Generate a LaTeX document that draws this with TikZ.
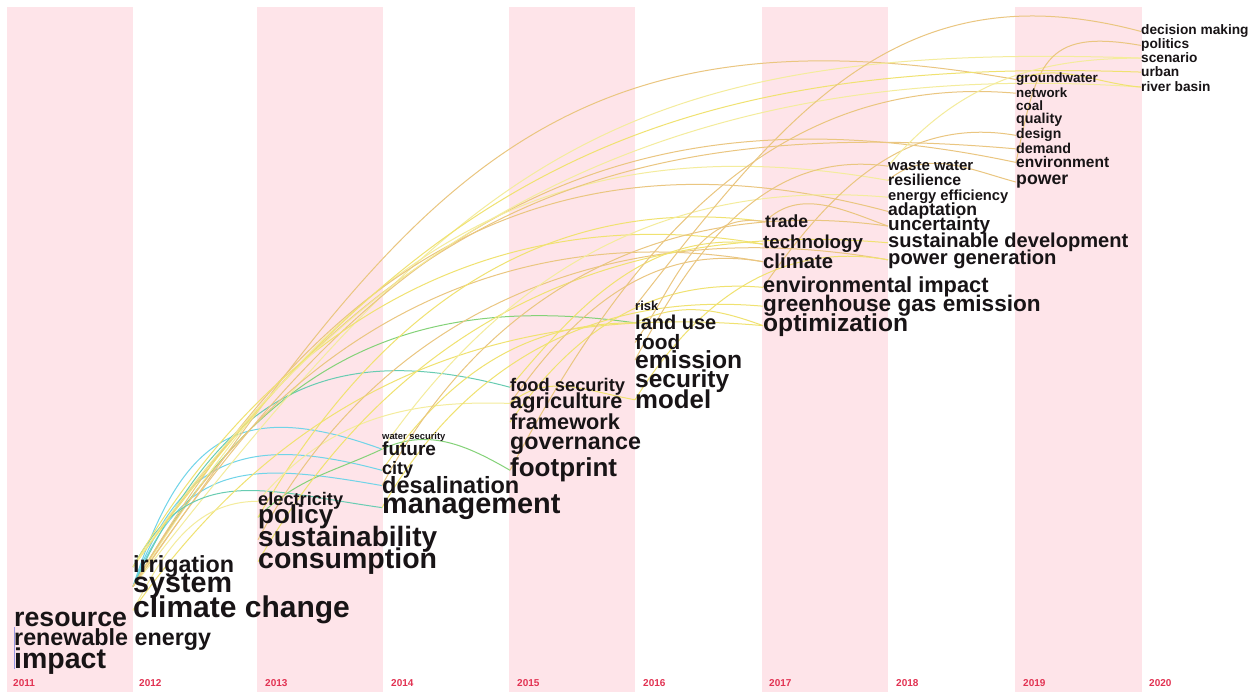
\documentclass[tikz,border=0pt]{standalone}
\usepackage{fontspec}
\setmainfont{Liberation Sans}
\definecolor{slice}{RGB}{254,228,233}
\definecolor{yearred}{RGB}{226,50,82}
\definecolor{ink}{RGB}{24,20,22}
\definecolor{linkcyan}{RGB}{112,212,232}
\definecolor{linkteal}{RGB}{104,204,178}
\definecolor{linkgreen}{RGB}{132,210,120}
\definecolor{linkyellow}{RGB}{240,226,112}
\definecolor{linkpale}{RGB}{244,236,156}
\definecolor{linkorange}{RGB}{234,198,128}
\definecolor{linkblue}{RGB}{150,150,228}
\pgfdeclarelayer{back}
\pgfdeclarelayer{links}
\pgfsetlayers{back,links,main}
\begin{document}
\begin{tikzpicture}[x=1pt, y=1pt,
  kw/.style={anchor=base west, inner sep=0pt, text=ink, font=\bfseries\fontsize{#1}{#1}\selectfont},
  yr/.style={anchor=base west, inner sep=0pt, text=yearred, font=\bfseries\fontsize{10}{10}\selectfont},
  lnk/.style={draw=#1, line width=1pt}]
\useasboundingbox (0,0) rectangle (1253,692);
\begin{pgfonlayer}{back}
\fill[white] (0,0) rectangle (1253,692);
\fill[slice] (7,0) rectangle (133,685);
\fill[slice] (257,0) rectangle (383,685);
\fill[slice] (509,0) rectangle (635,685);
\fill[slice] (762,0) rectangle (888,685);
\fill[slice] (1015,0) rectangle (1142,685);
\end{pgfonlayer}
% time slices
\node[yr] (y2011) at (13,5) {2011};
\node[yr] (y2012) at (139,5) {2012};
\node[yr] (y2013) at (265,5) {2013};
\node[yr] (y2014) at (391,5) {2014};
\node[yr] (y2015) at (517,5) {2015};
\node[yr] (y2016) at (643,5) {2016};
\node[yr] (y2017) at (769,5) {2017};
\node[yr] (y2018) at (896,5) {2018};
\node[yr] (y2019) at (1023,5) {2019};
\node[yr] (y2020) at (1149,5) {2020};
% 2011
\node[kw=26.7] (resource) at (14,65) {resource};
\node[kw=23.3] (renewable) at (14,46) {renewable energy};
\node[kw=28.5] (impact) at (14,23) {impact};
% 2012
\node[kw=23.3] (irrigation) at (133,119) {irrigation};
\node[kw=28.7] (system) at (133,99) {system};
\node[kw=30] (climchange) at (133,74) {climate change};
% 2013
\node[kw=18.2] (electricity) at (258,186) {electricity};
\node[kw=26] (policy) at (258,168) {policy};
\node[kw=28] (sustain) at (258,145) {sustainability};
\node[kw=28.5] (consumption) at (258,123) {consumption};
% 2014
\node[kw=9.4] (watersec) at (382,252) {water security};
\node[kw=19] (future) at (382,236) {future};
\node[kw=18] (city) at (382,217) {city};
\node[kw=23.5] (desal) at (382,198) {desalination};
\node[kw=28.9] (management) at (382,178) {management};
% 2015
\node[kw=18.3] (foodsec) at (510,300) {food security};
\node[kw=21.7] (agriculture) at (510,283) {agriculture};
\node[kw=21.7] (framework) at (510,262) {framework};
\node[kw=23.3] (governance) at (510,242) {governance};
\node[kw=26] (footprint) at (510,215) {footprint};
% 2016
\node[kw=13] (risk) at (635,381) {risk};
\node[kw=20] (landuse) at (635,362) {land use};
\node[kw=20.8] (food) at (635,342) {food};
\node[kw=24.7] (emission) at (635,323) {emission};
\node[kw=24.5] (security) at (635,304) {security};
\node[kw=25.8] (model) at (635,283) {model};
% 2017
\node[kw=17.6] (trade) at (765,464) {trade};
\node[kw=18.7] (technology) at (763,443) {technology};
\node[kw=20.3] (climate) at (763,423) {climate};
\node[kw=21.8] (envimpact) at (763,399) {environmental impact};
\node[kw=22.6] (ghg) at (763,380) {greenhouse gas emission};
\node[kw=24.6] (optimization) at (763,360) {optimization};
% 2018
\node[kw=15] (wastewater) at (888,521) {waste water};
\node[kw=15.8] (resilience) at (888,506) {resilience};
\node[kw=14.7] (energyeff) at (888,491) {energy efficiency};
\node[kw=17.6] (adaptation) at (888,476) {adaptation};
\node[kw=18.9] (uncertainty) at (888,461) {uncertainty};
\node[kw=20.1] (sustdev) at (888,444) {sustainable development};
\node[kw=20.2] (powergen) at (888,427) {power generation};
% 2019
\node[kw=13.5] (groundwater) at (1016,609) {groundwater};
\node[kw=13.3] (network) at (1016,594) {network};
\node[kw=13.5] (coal) at (1016,581) {coal};
\node[kw=14.3] (quality) at (1016,568) {quality};
\node[kw=14] (design) at (1016,553) {design};
\node[kw=14.3] (demand) at (1016,538) {demand};
\node[kw=15.5] (environment) at (1016,524) {environment};
\node[kw=17.7] (power) at (1016,507) {power};
% 2020
\node[kw=13.7] (decision) at (1141,657) {decision making};
\node[kw=13.7] (politics) at (1141,643) {politics};
\node[kw=13.7] (scenario) at (1141,629) {scenario};
\node[kw=13.7] (urban) at (1141,615) {urban};
\node[kw=13.7] (riverbasin) at (1141,600) {river basin};
% co-occurrence links
\begin{pgfonlayer}{links}
\path (resource.base west) edge[lnk=linkblue] (impact.base west);
\path (system.west)
  edge[lnk=linkcyan, out=72, in=160, looseness=1.4] (future.west)
  edge[lnk=linkcyan, out=70, in=165, looseness=1.3] (city.west)
  edge[lnk=linkcyan, out=68, in=170, looseness=1.3] (desal.west)
  edge[lnk=linkteal, out=65, in=165, looseness=1.2] (foodsec.west)
  edge[lnk=linkgreen, out=60, in=172, looseness=1.1] (landuse.west)
  edge[lnk=linkorange, out=55, in=170, looseness=1.2] (groundwater.west)
  edge[lnk=linkpale, out=52, in=178, looseness=1.2] (scenario.west)
  edge[lnk=linkorange, out=56, in=168, looseness=1.1] (environment.west)
  edge[lnk=linkpale, out=58, in=170, looseness=1.1] (resilience.west)
  edge[lnk=linkorange, out=60, in=165, looseness=1.1] (adaptation.west)
  edge[lnk=linkorange, out=60, in=170] (climate.west);
\path (irrigation.west)
  edge[lnk=linkteal, out=62, in=172, looseness=1.2] (management.west)
  edge[lnk=linkorange, out=55, in=175, looseness=1.1] (demand.west)
  edge[lnk=linkyellow, out=60, in=170] (technology.west)
  edge[lnk=linkyellow, out=54, in=178, looseness=1.1] (urban.west)
  edge[lnk=linkpale, out=56, in=176] (riverbasin.west);
\path (climchange.west)
  edge[lnk=linkyellow, out=55, in=175] (optimization.west)
  edge[lnk=linkpale, out=62, in=180] (electricity.west);
\path (policy.west)
  edge[lnk=linkgreen, out=45, in=205] (future.west)
  edge[lnk=linkyellow, out=60, in=172] (trade.west);
\path (electricity.west) edge[lnk=linkpale, out=50, in=178] (agriculture.west);
\path (sustain.west) edge[lnk=linkorange, out=62, in=170] (powergen.west);
\path (consumption.west) edge[lnk=linkyellow, out=60, in=175] (sustdev.west);
\path (future.west)
  edge[lnk=linkgreen, out=25, in=150] (footprint.west)
  edge[lnk=linkpale, out=55, in=175] (energyeff.west);
\path (city.west) edge[lnk=linkyellow, out=55, in=180] (landuse.west);
\path (desal.west) edge[lnk=linkorange, out=62, in=172] (uncertainty.west);
\path (management.west) edge[lnk=linkyellow, out=60, in=175] (ghg.west);
\path (foodsec.west) edge[lnk=linkyellow, out=50, in=172] (technology.west);
\path (agriculture.west)
  edge[lnk=linkorange, out=55, in=170] (climate.west)
  edge[lnk=linkyellow, out=40, in=170] (model.west);
\path (framework.west) edge[lnk=linkyellow, out=55, in=175] (envimpact.west);
\path (footprint.west) edge[lnk=linkorange, out=62, in=175] (network.west);
\path (risk.west) edge[lnk=linkorange, out=52, in=165, looseness=1.1] (decision.west);
\path (landuse.west) edge[lnk=linkyellow, out=25, in=160] (optimization.west);
\path (food.west) edge[lnk=linkorange, out=55, in=170] (trade.west);
\path (emission.west) edge[lnk=linkorange, out=62, in=172] (wastewater.west);
\path (model.west) edge[lnk=linkyellow, out=58, in=170] (powergen.west);
\path (trade.west) edge[lnk=linkorange, out=45, in=160] (uncertainty.west);
\path (envimpact.west) edge[lnk=linkorange, out=55, in=170] (design.west);
\path (resilience.west) edge[lnk=linkorange, out=40, in=165] (power.west);
\path (wastewater.west) edge[lnk=linkpale, out=50, in=180] (scenario.west);
\path (environment.west) edge[lnk=linkorange, out=78, in=170, looseness=1.5] (politics.west);
\path (groundwater.west) edge[lnk=linkyellow, out=20, in=175] (riverbasin.west);
\end{pgfonlayer}
\end{tikzpicture}
\end{document}
